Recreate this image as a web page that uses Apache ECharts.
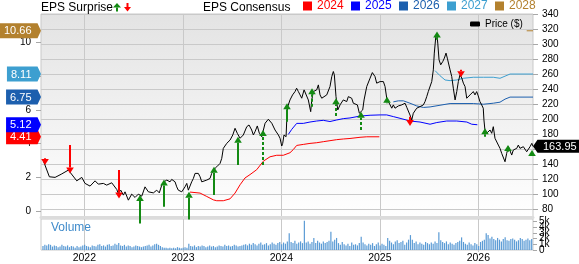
<!DOCTYPE html>
<html><head><meta charset="utf-8">
<script src="https://cdn.jsdelivr.net/npm/echarts@6/dist/echarts.min.js"></script>
<style>html,body{margin:0;padding:0;background:#fff;overflow:hidden}#c{width:579px;height:264px}</style>
</head><body><div id="c"></div>
<script>
// ---------- axis ranges & ticks ----------
const xStart = 2021.56, xEnd = 2026.555;
const yearTicks = [2022, 2023, 2024, 2025, 2026];
const priceTicks = [80,100,120,140,160,180,200,220,240,260,280,300,320,340];
const epsTicks = [0, 2, 4, 6, 8, 10];
const volumeTicks = [0, 1, 2, 3, 4, 5];

// ---------- legend ----------
const consensusNames = ['2024', '2025', '2026', '2027', '2028'];
const consensusColors = ['#ff0000', '#0000ff', '#1c5fae', '#3d9fd0', '#b3812e'];

// ---------- price ($) : [decimal year, price] ----------
const price = [
[2021.584,144.8],[2021.645,123.5],[2021.703,122.7],[2021.765,126.9],[2021.838,132.4],[2021.923,118.1],[2021.974,122.7],
[2022.007,114.7],[2022.058,111.1],[2022.109,118.1],[2022.142,113.7],[2022.193,114.7],[2022.227,112.4],[2022.278,115.5],
[2022.329,106.7],[2022.345,101.3],[2022.370,105.7],[2022.396,99.1],[2022.413,103.5],[2022.447,92.4],[2022.481,100.4],
[2022.515,96],[2022.548,100.4],[2022.583,97.7],[2022.616,110.1],[2022.650,103.5],[2022.667,101.3],
[2022.701,102.1],[2022.735,105.7],[2022.761,102.1],[2022.786,112.4],[2022.809,116.8],[2022.837,119.1],[2022.870,116.8],
[2022.887,120],[2022.921,116.8],[2022.938,110.1],[2022.954,105.7],[2022.989,103.5],[2023.022,110.1],[2023.040,114.7],
[2023.056,105.7],[2023.073,108],[2023.090,116.8],[2023.107,121.3],[2023.124,128],[2023.141,130.1],[2023.157,128],
[2023.175,123.5],[2023.192,116.8],[2023.208,116.8],[2023.243,119.1],[2023.276,121.3],[2023.293,128],[2023.310,132.4],
[2023.327,134.7],[2023.344,136.8],[2023.360,139.1],[2023.378,141.3],[2023.395,148],[2023.411,161.3],[2023.446,168],
[2023.480,172.4],[2023.507,179.1],[2023.530,188],[2023.553,181.3],[2023.581,174.7],[2023.614,179.1],[2023.649,190.1],
[2023.672,192.4],[2023.699,185.7],[2023.716,179.1],[2023.733,183.5],[2023.756,191.1],[2023.777,181.3],[2023.801,176.8],
[2023.835,194.7],[2023.868,200],[2023.903,194.7],[2023.936,185.7],[2023.970,179.1],[2023.987,174.7],[2024.004,164.4],
[2024.014,168],[2024.027,179.1],[2024.048,176.8],[2024.055,199.1],[2024.065,216.8],[2024.088,225.7],[2024.114,232.4],
[2024.139,236.8],[2024.155,241.3],[2024.173,236.8],[2024.190,232.4],[2024.207,228],[2024.231,239.1],[2024.251,241.3],
[2024.274,225.7],[2024.298,210.1],[2024.309,225.7],[2024.325,236.8],[2024.359,239.1],[2024.376,245.7],[2024.393,232.4],
[2024.410,228],[2024.426,230.1],[2024.461,232.4],[2024.494,243.5],[2024.512,256.8],[2024.528,263.5],[2024.538,259.1],
[2024.555,230.1],[2024.573,212.4],[2024.596,219.1],[2024.629,225.7],[2024.647,228],[2024.664,223.5],[2024.680,230.1],
[2024.697,232.4],[2024.714,228],[2024.731,221.3],[2024.748,223.5],[2024.772,219.1],[2024.792,208],[2024.806,205.7],
[2024.826,212.4],[2024.840,225.7],[2024.867,243.5],[2024.901,254.7],[2024.924,262.1],[2024.951,256.8],[2024.968,248],
[2024.985,250.1],[2025.002,250.1],[2025.019,248],[2025.036,250.1],[2025.053,243.5],[2025.070,228],[2025.086,223.5],
[2025.104,219.1],[2025.121,214.7],[2025.137,219.1],[2025.154,214.7],[2025.172,216.8],[2025.188,217.7],[2025.205,216],
[2025.222,219.1],[2025.239,219.1],[2025.256,221.3],[2025.273,216],[2025.289,214.7],[2025.306,205.7],[2025.324,199.1],
[2025.340,208],[2025.357,210.1],[2025.374,214.7],[2025.391,212.4],[2025.408,216.8],[2025.425,214.7],[2025.442,219.1],
[2025.459,223.5],[2025.476,230.1],[2025.492,236.8],[2025.510,239.1],[2025.527,250.1],[2025.543,265.7],[2025.553,288],
[2025.567,308],[2025.578,314.7],[2025.588,301.3],[2025.601,279.1],[2025.618,272.4],[2025.639,276.8],[2025.655,281.3],
[2025.672,288],[2025.685,281.3],[2025.703,279.1],[2025.713,265.7],[2025.730,256.8],[2025.746,241.3],[2025.764,225.7],
[2025.781,236.8],[2025.797,250.1],[2025.814,259.1],[2025.832,254.7],[2025.848,248],[2025.865,243.5],[2025.882,228],
[2025.898,230.1],[2025.916,232.4],[2025.933,234.7],[2025.949,236.8],[2025.966,232.4],[2025.983,236.8],[2025.999,231.1],
[2026.016,223.5],[2026.034,219.1],[2026.050,214.7],[2026.057,199.1],[2026.067,185.7],[2026.084,181.3],[2026.102,179.1],
[2026.119,185.7],[2026.136,181.3],[2026.152,190.1],[2026.169,174.7],[2026.187,172.4],[2026.203,165.7],[2026.220,161.3],
[2026.237,154.7],[2026.254,152.4],[2026.271,143.5],[2026.288,154.7],[2026.305,163.5],[2026.322,161.3],[2026.339,152.4],
[2026.355,159.1],[2026.390,161.3],[2026.406,165.7],[2026.423,161.3],[2026.457,163.5],[2026.491,156.8],[2026.525,163.5],
[2026.543,168],[2026.555,163.95]
];
const lastPrice = 163.95;

// ---------- EPS consensus by fiscal year : [decimal year, EPS] ----------
const cons2024 = [[2023.073,1.15],[2023.175,1.09],[2023.243,0.89],[2023.310,0.69],[2023.344,0.64],[2023.411,0.64],[2023.479,0.75],
[2023.530,1.09],[2023.581,1.58],[2023.631,1.98],[2023.682,2.18],[2023.750,2.47],[2023.817,2.97],[2023.885,3.23],[2023.953,3.32],
[2024.020,3.32],[2024.088,3.47],[2024.122,3.66],[2024.156,3.90],[2024.223,3.96],[2024.291,4.02],[2024.359,4.06],[2024.426,4.12],
[2024.494,4.18],[2024.562,4.24],[2024.629,4.28],[2024.697,4.31],[2024.799,4.38],[2024.867,4.41],[2024.995,4.41]];
const cons2025 = [[2024.071,4.55],[2024.106,4.85],[2024.156,5.20],[2024.223,5.20],[2024.291,5.28],[2024.359,5.34],[2024.426,5.38],
[2024.494,5.31],[2024.562,5.40],[2024.629,5.48],[2024.697,5.52],[2024.799,5.63],[2024.901,5.68],[2025.003,5.70],[2025.070,5.70],
[2025.137,5.60],[2025.205,5.50],[2025.307,5.34],[2025.408,5.28],[2025.510,5.15],[2025.578,5.25],[2025.679,5.34],[2025.781,5.34],
[2025.883,5.28],[2025.933,5.15],[2025.990,5.12]];
const cons2026 = [[2025.137,6.47],[2025.188,6.53],[2025.239,6.53],[2025.306,6.39],[2025.374,6.23],[2025.442,6.14],[2025.510,6.17],
[2025.611,6.27],[2025.713,6.37],[2025.814,6.37],[2025.949,6.37],[2026.051,6.33],[2026.152,6.39],[2026.220,6.45],[2026.271,6.63],
[2026.322,6.75],[2026.555,6.75]];
const cons2027 = [[2025.561,8.31],[2025.611,8.01],[2025.662,7.76],[2025.713,7.72],[2025.781,7.76],[2025.848,7.86],[2025.949,7.92],
[2026.051,7.92],[2026.152,7.92],[2026.220,7.86],[2026.322,8.11],[2026.555,8.11]];
const cons2028 = [[2026.491,10.66],[2026.555,10.66]];
const consensusLast = [4.41, 5.12, 6.75, 8.11, 10.66];

// ---------- EPS surprises : [decimal year, arrow tail price, arrow tip price, estimate-revised(1=dashed)] ----------
const surprises = [
[2021.601,148,139.1,0],[2021.855,165.7,128,0],[2022.353,132.4,94.7,0],[2025.306,203.5,191.1,0],[2025.824,265.7,256,0],
[2022.566,61.3,99.1,0],[2022.812,83.5,120,0],[2023.066,66.7,103.5,0],[2023.317,99.1,136.8,0],[2023.563,139.1,176.8,0],
[2023.817,139.1,185.7,1],[2024.061,196.8,221.3,0],[2024.309,216.8,241.3,1],[2024.555,204.4,228,1],[2024.809,185.7,210.1,1],
[2025.070,221.3,230.1,0],[2025.578,305.7,316.8,0],[2026.068,176.8,188,0],[2026.305,156.8,165.7,0],[2026.548,152.4,159.1,0]
];

// ---------- weekly volume (thousands) ----------
const volumeStart = 2021.58;
const volumeValues = [
0.7,0.9,0.8,1.0,0.9,0.6,0.8,0.7,0.5,0.6, 0.9,0.7,0.6,0.8,0.5,0.7,0.6,0.4,0.7,0.5,
0.6,0.8,0.9,0.7,0.6,0.5,0.8,0.7,0.6,0.9, 1.0,0.7,0.8,0.6,0.9,1.0,0.7,0.8,1.1,0.9,
1.2,0.8,0.7,0.9,0.6,0.8,0.7,0.5,0.6,0.8, 0.7,0.6,0.5,0.6,0.7,0.8,0.9,
0.6,0.8,1.0,1.1,0.9,0.7,0.5,0.4,0.4,0.3, 0.4,0.3,0.4,0.3,0.5,0.4,0.3,0.4,0.5,0.4, 1.1,
0.7,0.6,0.8,0.5,0.7,0.6,0.8,0.7,0.5,0.6,0.8,0.6,
0.7,0.5,0.6,0.8,0.7,0.6,0.9,0.7,0.8,0.6,0.7,0.9,0.8,0.6,0.7,
0.8,0.9,1.0,0.8,1.1,0.9,1.2,1.0,0.8,1.1,1.3,0.9,1.0,1.2,0.8,
1.0,1.3,1.1,0.9,1.2,1.4,1.0,1.3,1.1,1.5, 2.9, 1.4,1.2,1.6,1.1,1.3,1.5,1.2, 5.1, 1.3,1.5,1.1,1.4, 2.1,
1.2,1.6,1.3,1.1,1.5,1.2,1.4,1.6, 3.2, 1.5,1.8, 2.1,
1.2,0.9,1.4,1.0,0.8,1.1,0.7,1.3,0.9,1.0,0.8,1.2, 2.3,
1.3,1.0,0.8,1.1,0.9,1.2,0.7,1.0,1.3,0.8,1.1,0.9,0.7, 2.1,
1.6,1.3,1.0,1.5,1.7,1.2,1.4,1.6,0.9,1.3,1.8, 2.6,
1.8,1.2,1.5,1.0,1.3,1.1,0.9,1.4,1.2,1.0,1.3,1.1,1.5,1.2, 3.1,
1.7,1.4,1.2,1.5,1.0,1.3,1.1,0.9,1.2,1.4,1.6, 2.2,
1.4,1.1,0.9,1.3,1.0,0.8,1.2,1.0,0.7,1.4,1.6,1.8, 2.9, 2.6,
2.0,2.3,1.9,1.7,2.1,1.8,1.5,1.9,2.2,1.7,1.6,1.9,2.0,1.8,1.5,1.7,2.1,1.9,1.6,1.8,2.0,1.7,1.9
];
const volumeData = volumeValues.map((v, i) => [volumeStart + i / 52, v]);

// ---------- rendering ----------
const FONT = '"Liberation Sans", Arial, Helvetica, sans-serif';
const measureCtx = document.createElement('canvas').getContext('2d');
function textWidth(t, size) { measureCtx.font = size + 'px ' + FONT; return measureCtx.measureText(t).width; }

const chart = echarts.init(document.getElementById('c'), null, { renderer: 'canvas' });

function renderArrow(params, api) {
  const x = api.value(0), tail = api.value(1), tip = api.value(2), dashed = api.value(3);
  const a = api.coord([x, tail]), b = api.coord([x, tip]);
  const up = b[1] < a[1];
  const color = up ? '#138a13' : '#ff0000';
  const hh = 6, hw = 3.8;
  const base = up ? b[1] + hh : b[1] - hh;
  const px = Math.round(b[0]);
  const children = [];
  if ((up && a[1] > base) || (!up && a[1] < base)) {
    children.push({ type: 'line', shape: { x1: px, y1: a[1], x2: px, y2: base },
      style: { stroke: color, lineWidth: 2, lineDash: dashed ? [3, 2] : null } });
  }
  children.push({ type: 'polygon', shape: { points: [[px, b[1]], [px - hw, base], [px + hw, base]] }, style: { fill: color } });
  return { type: 'group', children };
}

const tagColors = [consensusColors[0], consensusColors[1], consensusColors[2], consensusColors[3], consensusColors[4]];
function renderTag(params, api) {
  const v = api.value(1);
  const y = api.coord([xStart, v])[1];
  const gl = params.coordSys.x;
  const txt = v.toFixed(2);
  const w = textWidth(txt, 11);
  const right = gl - 3.5;
  const textRight = right - 6;
  const left = textRight - w - 4;
  const h = 7.5;
  return { type: 'group', children: [
    { type: 'polygon', shape: { points: [[left, y - h], [right, y - h], [gl, y], [right, y + h], [left, y + h]] },
      style: { fill: tagColors[params.dataIndex] } },
    { type: 'text', style: { text: txt, x: textRight, y: y + 0.5, align: 'right', verticalAlign: 'middle',
      fill: '#fff', font: '11px ' + FONT } }
  ] };
}

function renderPriceTag(params, api) {
  const p = api.coord([api.value(0), api.value(1)]);
  const gx = params.coordSys.x + params.coordSys.width;
  const y = p[1], h = 6.5;
  return { type: 'group', children: [
    { type: 'polygon', shape: { points: [[gx, y], [gx + 4.5, y - h], [gx + 60, y - h], [gx + 60, y + h], [gx + 4.5, y + h]] },
      style: { fill: '#000' } },
    { type: 'text', style: { text: api.value(1).toFixed(2), x: gx + 10, y: y + 0.5, align: 'left', verticalAlign: 'middle',
      fill: '#fff', font: '11px ' + FONT } }
  ] };
}

const consData = [cons2024, cons2025, cons2026, cons2027, cons2028];
const consSeries = consensusNames.map((n, i) => ({
  name: n, type: 'line', xAxisIndex: 0, yAxisIndex: 0, data: consData[i], showSymbol: false, symbol: 'none',
  lineStyle: { color: consensusColors[i], width: 1 }, itemStyle: { color: consensusColors[i] }, z: 2, silent: true
}));

// volume axis labels are split over three overlaid axes so none get auto-hidden
function volumeAxis(values) {
  return { gridIndex: 1, type: 'value', position: 'right', min: 0, max: 5.4, axisLine: { show: false },
    axisTick: { show: true, length: 4, customValues: values, lineStyle: { color: '#a8a8a8' } },
    axisLabel: { customValues: values, formatter: v => v === 0 ? '0' : v + 'k', fontSize: 10, color: '#000', margin: 6,
      hideOverlap: false, showMinLabel: true, showMaxLabel: true },
    splitLine: { show: false } };
}

const gridLine = '#c9c9c9';
const option = {
  animation: false,
  textStyle: { fontFamily: FONT },
  grid: [
    { left: 41, top: 14, width: 492, height: 203, show: true, borderColor: gridLine, borderWidth: 1,
      backgroundColor: new echarts.graphic.LinearGradient(0, 0, 0, 1, [{ offset: 0, color: '#e3e3e3' }, { offset: 1, color: '#ffffff' }]) },
    { left: 41, top: 219, width: 492, height: 34, show: true, borderColor: gridLine, borderWidth: 1, backgroundColor: '#fff' }
  ],
  legend: [
    { data: consensusNames.map((n, i) => ({ name: n, textStyle: { color: consensusColors[i] } })),
      left: 303, top: 0, padding: 0, icon: 'rect', itemWidth: 9, itemHeight: 9, itemGap: 7.3, selectedMode: false,
      textStyle: { fontSize: 12, fontFamily: FONT } },
    { data: [{ name: 'Price ($)' }], left: 470, top: 19, padding: 0, icon: 'roundRect', itemWidth: 10, itemHeight: 5,
      selectedMode: false, textStyle: { fontSize: 10, color: '#000', fontFamily: FONT } }
  ],
  xAxis: [
    { gridIndex: 0, type: 'value', min: xStart, max: xEnd,
      axisLine: { show: true, onZero: false, lineStyle: { color: '#dcdcdc', width: 3 } },
      axisTick: { show: false, customValues: yearTicks }, axisLabel: { show: false, customValues: yearTicks },
      splitLine: { show: true, lineStyle: { color: gridLine, width: 1 } } },
    { gridIndex: 1, type: 'value', min: xStart, max: xEnd, axisLine: { show: false },
      axisTick: { show: true, length: 2, customValues: yearTicks, lineStyle: { color: gridLine } },
      axisLabel: { customValues: yearTicks, formatter: v => String(Math.round(v)), fontSize: 10.5, color: '#000', margin: 3 },
      splitLine: { show: true, lineStyle: { color: gridLine, width: 1 } } }
  ],
  yAxis: [
    { gridIndex: 0, type: 'value', position: 'left', min: -0.32, max: 11.65, axisLine: { show: false },
      axisTick: { show: true, length: 5, customValues: epsTicks, lineStyle: { color: '#a8a8a8' } },
      axisLabel: { customValues: epsTicks, fontSize: 10, color: '#000', margin: 10 }, splitLine: { show: false } },
    { gridIndex: 0, type: 'value', position: 'right', min: 70, max: 340, axisLine: { show: false },
      axisTick: { show: true, length: 5, customValues: priceTicks, lineStyle: { color: '#a8a8a8' } },
      axisLabel: { customValues: priceTicks, fontSize: 10, color: '#000', margin: 9 },
      splitLine: { show: true, lineStyle: { color: gridLine, width: 1 } } },
    volumeAxis([volumeTicks[0], volumeTicks[3]]),
    volumeAxis([volumeTicks[1], volumeTicks[4]]),
    volumeAxis([volumeTicks[2], volumeTicks[5]])
  ],
  graphic: [
    { type: 'text', left: 41, top: 2, style: { text: 'EPS Surprise', font: '12px ' + FONT, fill: '#000' } },
    { type: 'polygon', shape: { points: [[113, 7.5], [117, 3], [121, 7.5]] }, style: { fill: '#138a13' } },
    { type: 'rect', shape: { x: 116, y: 7.5, width: 2, height: 4 }, style: { fill: '#138a13' } },
    { type: 'polygon', shape: { points: [[124, 7], [131, 7], [127.5, 11.5]] }, style: { fill: '#ff0000' } },
    { type: 'rect', shape: { x: 126.5, y: 3, width: 2, height: 4 }, style: { fill: '#ff0000' } },
    { type: 'text', left: 203, top: 2, style: { text: 'EPS Consensus', font: '12px ' + FONT, fill: '#000' } },
    { type: 'text', left: 51, top: 222, style: { text: 'Volume', font: '12px ' + FONT, fill: '#3f8bcb' } }
  ],
  series: [
    ...consSeries,
    { name: 'Price ($)', type: 'line', xAxisIndex: 0, yAxisIndex: 1, data: price, showSymbol: false, symbol: 'none',
      lineStyle: { color: '#000', width: 1 }, itemStyle: { color: '#000' }, z: 3, silent: true },
    { name: 'surprise', type: 'custom', xAxisIndex: 0, yAxisIndex: 1, data: surprises, renderItem: renderArrow, clip: false, z: 5, silent: true },
    { name: 'consensusTags', type: 'custom', xAxisIndex: 0, yAxisIndex: 0,
      data: consensusLast.map(v => [xStart, v]), renderItem: renderTag, clip: false, z: 6, silent: true },
    { name: 'priceTag', type: 'custom', xAxisIndex: 0, yAxisIndex: 1, data: [[xEnd, lastPrice]],
      renderItem: renderPriceTag, clip: false, z: 6, silent: true },
    { name: 'volume', type: 'bar', xAxisIndex: 1, yAxisIndex: 2, data: volumeData, barWidth: 1.2,
      itemStyle: { color: '#5b9bd5' }, silent: true }
  ]
};
chart.setOption(option);
</script>
</body></html>
